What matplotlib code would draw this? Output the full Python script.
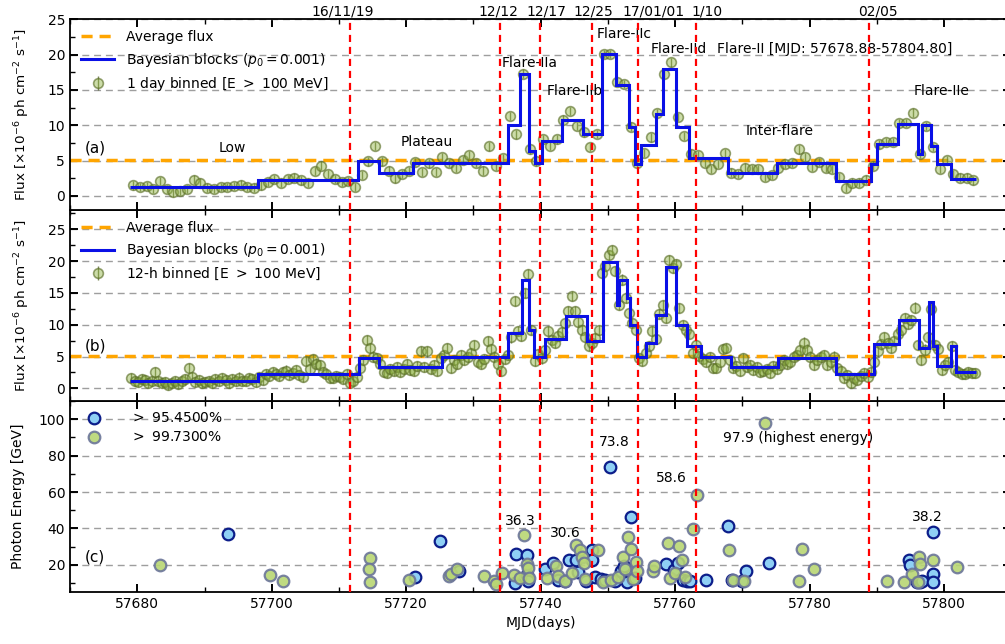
import numpy as np
import matplotlib
matplotlib.use("Agg")
import matplotlib.pyplot as plt
from matplotlib.ticker import MultipleLocator
from matplotlib.lines import Line2D

# ---------------------------------------------------------------------------
# Light-curve data, Flare-II (MJD 57678.88 - 57804.80)
# ---------------------------------------------------------------------------
T_START = 57678.88
AVG_FLUX = 5.1

# 1-day binned flux (E > 100 MeV), units 1e-6 ph cm^-2 s^-1
flux_1day = [
    1.5, 1.3, 1.4, 1.0, 2.1, 1.0, 0.5, 0.7, 1.0, 2.3,
    1.9, 1.2, 1.0, 1.3, 1.3, 1.4, 1.6, 1.3, 1.2, 1.5,
    2.0, 2.4, 1.9, 2.4, 2.6, 2.2, 1.9, 3.5, 4.3, 3.1,
    2.4, 2.0, 2.1, 1.3, 3.0, 4.9, 7.1, 4.9, 3.6, 2.5,
    3.1, 3.5, 4.8, 3.4, 4.6, 3.4, 5.5, 4.7, 4.0, 5.1,
    5.8, 4.7, 3.6, 7.0, 4.3, 5.4, 11.3, 8.7, 17.3, 6.6,
    4.9, 8.0, 7.1, 8.0, 10.8, 12.0, 9.9, 9.0, 6.9, 8.8,
    20.1, 20.1, 16.1, 15.8, 9.8, 4.7, 6.1, 8.3, 11.7, 17.3,
    18.9, 11.2, 8.5, 6.0, 5.8, 4.7, 3.8, 4.5, 6.1, 3.3,
    3.1, 4.0, 3.8, 3.8, 2.7, 3.0, 4.0, 4.5, 4.7, 6.6,
    5.5, 4.1, 4.8, 4.0, 3.8, 2.7, 1.2, 1.9, 1.9, 2.3,
    4.3, 7.3, 7.6, 7.6, 10.3, 10.3, 11.8, 6.0, 9.9, 6.9,
    3.8, 5.1, 3.1, 2.6, 2.6, 2.2,
]
flux_1day_err = 0.6

bb_1day_edges = [
    57678.88, 57698.0, 57712.8, 57716.0, 57721.0, 57735.1, 57737.0, 57738.3,
    57739.1, 57740.2, 57743.2, 57746.3, 57749.1, 57751.2, 57753.1, 57754.1,
    57754.9, 57757.2, 57758.2, 57760.1, 57762.0, 57767.8, 57775.1, 57784.0,
    57789.2, 57790.0, 57793.1, 57796.1, 57796.8, 57798.1, 57799.0, 57801.1,
    57804.8,
]
bb_1day_values = [
    1.3, 2.2, 4.9, 3.3, 4.7, 10.1, 17.3, 6.4, 4.7, 7.8, 10.8, 8.8, 20.1,
    15.7, 9.8, 4.5, 7.2, 11.6, 18.0, 9.8, 5.4, 3.3, 4.6, 2.1, 4.5, 7.4,
    10.2, 6.0, 10.0, 7.0, 4.5, 2.4,
]

# 12-h binned flux (E > 100 MeV)
flux_12h = [
    1.6, 1.2, 1.0, 1.5, 1.3, 0.9, 1.1, 2.6, 1.2, 0.8,
    1.0, 0.6, 0.9, 1.2, 0.7, 1.1, 1.4, 3.2, 1.8, 1.0,
    1.3, 0.8, 1.0, 1.2, 0.9, 1.4, 1.1, 1.6, 1.3, 0.9,
    1.5, 1.2, 1.7, 1.1, 1.2, 1.6, 1.4, 1.0, 1.8, 1.3,
    2.3, 2.0, 2.6, 2.2, 2.0, 2.5, 2.8, 2.1, 2.4, 2.9,
    2.1, 1.8, 4.3, 3.0, 4.6, 3.9, 3.7, 2.5, 2.2, 1.7,
    1.6, 2.0, 1.8, 1.5, 2.3, 0.9, 1.2, 1.8, 3.2, 4.5,
    7.6, 6.4, 5.0, 4.7, 3.9, 2.6, 2.4, 3.0, 2.8, 3.4,
    2.6, 3.1, 3.8, 2.9, 2.7, 3.5, 5.8, 3.3, 5.8, 3.0,
    3.6, 2.8, 4.8, 5.3, 6.3, 3.2, 4.5, 3.9, 5.2, 4.4,
    4.9, 5.6, 6.8, 4.2, 3.8, 4.6, 7.4, 6.2, 5.0, 3.9,
    2.7, 4.6, 5.2, 8.0, 13.7, 9.0, 8.2, 15.0, 17.9, 9.2,
    4.3, 5.4, 4.7, 6.1, 9.0, 7.6, 7.1, 8.3, 8.9, 10.2,
    12.1, 14.5, 12.1, 10.5, 9.2, 8.0, 6.6, 7.1, 7.9, 9.2,
    18.1, 19.2, 21.0, 21.8, 18.4, 13.1, 17.1, 14.2, 11.8, 10.3,
    9.2, 4.7, 4.3, 5.5, 6.6, 9.0, 7.8, 11.7, 13.1, 11.0,
    20.2, 18.9, 19.5, 12.6, 10.0, 9.1, 8.5, 5.6, 6.8, 5.1,
    4.6, 4.2, 4.9, 3.2, 3.2, 4.1, 6.2, 6.3, 4.4, 3.2,
    3.5, 2.7, 4.8, 3.4, 3.7, 2.9, 3.3, 2.6, 2.7, 3.1,
    2.4, 3.5, 3.0, 3.7, 4.5, 3.9, 4.2, 5.0, 5.3, 6.0,
    7.2, 6.1, 5.0, 3.7, 4.4, 4.9, 5.2, 3.7, 4.1, 5.0,
    3.2, 2.7, 1.7, 2.1, 0.9, 1.6, 1.3, 2.0, 2.4, 1.8,
    2.6, 4.2, 5.8, 6.9, 8.0, 7.1, 6.4, 7.5, 8.6, 9.2,
    11.0, 10.1, 10.8, 12.7, 6.8, 4.5, 6.1, 8.0, 12.4, 6.8,
    6.2, 2.9, 3.6, 4.2, 6.6, 2.9, 2.6, 2.3, 2.2, 2.5,
    2.4, 2.4,
]
flux_12h_err = 0.8

bb_12h_edges = [
    57678.88, 57698.0, 57713.0, 57716.0, 57725.3, 57735.1, 57737.3, 57738.3,
    57739.0, 57740.7, 57743.7, 57746.9, 57749.3, 57751.4, 57751.6, 57752.9,
    57753.3, 57754.3, 57755.7, 57757.1, 57758.6, 57760.2, 57761.8, 57763.8,
    57768.3, 57775.3, 57783.9, 57789.6, 57793.3, 57796.3, 57797.7, 57798.3,
    57799.0, 57801.1, 57801.8, 57804.8,
]
bb_12h_values = [
    1.1, 2.2, 4.8, 3.4, 4.9, 8.7, 17.1, 9.1, 4.9, 7.8, 11.3, 7.5, 19.8,
    13.1, 17.1, 14.2, 9.9, 4.9, 7.2, 11.6, 19.0, 10.0, 6.7, 4.9, 3.3, 4.8,
    2.2, 6.9, 10.8, 6.4, 13.6, 6.6, 3.5, 6.6, 2.5,
]

# High-energy photons: arrival time (MJD) and energy (GeV)
photon_954_mjd = [
    57693.5, 57721.3, 57725.0, 57727.8, 57736.3, 57736.2, 57738.0, 57737.9,
    57738.1, 57740.6, 57741.8, 57742.6, 57743.6, 57744.2, 57745.2, 57745.6,
    57746.7, 57747.6, 57747.7, 57748.1, 57749.0, 57749.6, 57750.3, 57751.0,
    57751.9, 57752.4, 57752.8, 57753.5, 57754.0, 57758.7, 57759.9, 57760.5,
    57761.2, 57761.8, 57762.2, 57764.6, 57767.9, 57768.4, 57769.9, 57770.6,
    57774.0, 57794.8, 57795.0, 57796.0, 57796.4, 57796.7, 57798.3, 57798.4,
    57798.4,
]
photon_954_e = [
    36.9, 13.1, 33.2, 16.5, 25.9, 9.9, 25.2, 14.5,
    11.0, 17.4, 21.0, 11.5, 10.8, 22.8, 22.5, 15.8,
    11.0, 28.3, 22.5, 13.5, 12.0, 11.5, 73.8, 11.0,
    16.5, 19.5, 10.5, 46.4, 12.5, 20.5, 17.0, 20.8,
    11.5, 10.8, 11.3, 11.8, 41.4, 11.8, 11.0, 16.4,
    21.2, 22.7, 19.6, 10.4, 10.4, 11.0, 38.2, 14.7,
    10.4,
]
photon_997_mjd = [
    57683.4, 57699.8, 57701.7, 57714.6, 57714.5, 57714.6, 57720.4, 57726.3,
    57726.7, 57727.6, 57731.6, 57733.1, 57733.3, 57734.2, 57736.0, 57737.0,
    57737.5, 57738.0, 57738.1, 57738.3, 57741.0, 57742.3, 57742.6, 57743.6,
    57744.6, 57745.3, 57745.9, 57746.2, 57746.4, 57746.6, 57748.6, 57749.3,
    57750.5, 57751.5, 57752.2, 57752.6, 57753.0, 57753.4, 57753.7, 57754.2,
    57754.3, 57756.7, 57756.9, 57758.9, 57759.3, 57760.0, 57760.6, 57761.0,
    57761.4, 57762.6, 57763.2, 57768.0, 57768.6, 57770.2, 57773.4, 57778.4,
    57778.9, 57780.6, 57791.5, 57794.1, 57795.3, 57796.3, 57796.4, 57796.2,
    57798.4, 57801.9,
]
photon_997_e = [
    19.8, 14.5, 11.2, 23.5, 17.6, 10.3, 11.6, 13.7,
    15.0, 17.4, 13.7, 11.0, 9.5, 15.5, 14.6, 12.5,
    36.3, 20.5, 18.0, 12.5, 12.5, 19.2, 14.0, 11.2,
    15.5, 30.6, 28.0, 24.5, 20.8, 12.0, 28.3, 10.3,
    11.5, 13.5, 24.0, 17.5, 35.0, 28.5, 12.0, 21.5,
    16.5, 16.5, 19.1, 31.7, 12.5, 15.5, 30.4, 22.5,
    13.0, 39.6, 58.6, 28.0, 11.8, 11.0, 97.9, 11.0,
    28.8, 17.4, 11.0, 10.4, 15.0, 24.2, 20.6, 10.4,
    22.7, 18.5,
]

# Period boundaries and their calendar dates
period_lines = [57711.6, 57734.0, 57739.9, 57747.6, 57754.5, 57763.1, 57788.9]
date_labels = ["16/11/19", "12/12", "12/17", "12/25", "17/01/01", "1/10", "02/05"]
date_label_pos = [57710.6, 57733.7, 57740.8, 57747.9, 57756.8, 57764.8, 57790.2]

# Phase annotations on panel (a): (text, x, y)
phase_text = [
    ("Low", 57694.2, 6.85),
    ("Plateau", 57723.1, 7.7),
    ("Flare-IIa", 57738.4, 18.8),
    ("Flare-IIb", 57745.0, 14.8),
    ("Flare-IIc", 57752.4, 22.9),
    ("Flare-IId", 57760.5, 20.8),
    ("Inter-flare", 57775.5, 9.2),
    ("Flare-IIe", 57799.6, 14.8),
]

# Energy labels on panel (c): (text, x, y)
energy_text = [
    ("36.3", 57737.0, 43.8),
    ("30.6", 57743.6, 37.2),
    ("73.8", 57751.0, 87.6),
    ("58.6", 57759.5, 67.6),
    ("38.2", 57797.5, 46.4),
]

# ---------------------------------------------------------------------------
plt.rcParams["font.family"] = "DejaVu Sans"
plt.rcParams["font.size"] = 10
plt.rcParams["mathtext.fontset"] = "dejavusans"

fig = plt.figure(figsize=(10.05, 6.44), dpi=100)
left, width, h, bottom0 = 0.0697, 0.9365, 0.2965, 0.0807
ax_c = fig.add_axes([left, bottom0, width, h])
ax_b = fig.add_axes([left, bottom0 + h, width, h], sharex=ax_c)
ax_a = fig.add_axes([left, bottom0 + 2 * h, width, h], sharex=ax_c)

XLIM = (57670, 57810)
GRID_KW = dict(color="0.62", ls=(0, (5, 3.5)), lw=1.0)
RED_KW = dict(color="red", lw=1.6, dashes=(3.2, 2.2), zorder=6)

pt_face = (0.56, 0.70, 0.26, 0.45)
pt_edge = (0.36, 0.44, 0.16, 0.65)
pt_err = (0.30, 0.37, 0.12, 0.75)

t_1day = T_START + 0.5 + np.arange(len(flux_1day))
t_12h = T_START + 0.25 + 0.5 * np.arange(len(flux_12h))

flux_label = r"Flux [$\times10^{-6}$ ph cm$^{-2}$ s$^{-1}$]"


def style_axis(ax):
    ax.tick_params(which="both", direction="in", top=True, right=True)
    ax.tick_params(which="major", length=6, width=1.4)
    ax.tick_params(which="minor", length=3.5, width=1.0)
    for sp in ax.spines.values():
        sp.set_linewidth(1.3)
    ax.xaxis.set_major_locator(MultipleLocator(20))
    ax.xaxis.set_minor_locator(MultipleLocator(10))
    ax.set_axisbelow(True)


def light_curve(ax, t, f, ferr, edges, vals, label_pts, ylim, tag, tag_y):
    style_axis(ax)
    ax.set_ylim(*ylim)
    ax.yaxis.set_major_locator(MultipleLocator(5))
    ax.yaxis.set_minor_locator(MultipleLocator(2.5))
    ax.yaxis.grid(True, **GRID_KW)
    avg = ax.axhline(AVG_FLUX, color="orange", lw=2.5, dashes=(3.2, 2.0),
                     zorder=2)
    pts = ax.errorbar(t, f, yerr=ferr, fmt="o", ms=7, mfc=pt_face,
                      mec=pt_edge, mew=1.2, ecolor=pt_err, elinewidth=1.0,
                      capsize=0, zorder=3)
    ax.stairs(vals, edges, baseline=None, color="#0a10e6", lw=2.2, zorder=4)
    for x in period_lines:
        ax.axvline(x, **RED_KW)
    blk = Line2D([], [], color="#0a10e6", lw=2.2)
    ax.legend([avg, blk, pts],
              ["Average flux", r"Bayesian blocks ($p_0 = 0.001$)", label_pts],
              loc="upper left", frameon=False, fontsize=10,
              handlelength=2.4, borderaxespad=0.4, labelspacing=0.45)
    ax.text(57673.8, tag_y, tag, ha="center", va="center", fontsize=11)
    ax.set_ylabel(flux_label, fontsize=9.7)
    ax.tick_params(labelbottom=False)


light_curve(ax_a, t_1day, flux_1day, flux_1day_err, bb_1day_edges,
            bb_1day_values, r"1 day binned [E $>$ 100 MeV]", (-2, 25),
            "(a)", 6.85)
light_curve(ax_b, t_12h, flux_12h, flux_12h_err, bb_12h_edges,
            bb_12h_values, r"12-h binned [E $>$ 100 MeV]", (-2, 28),
            "(b)", 6.6)

for txt, x, y in phase_text:
    ax_a.text(x, y, txt, ha="center", va="center", fontsize=10)
ax_a.text(57766.2, 20.8, "Flare-II [MJD: 57678.88-57804.80]", ha="left",
          va="center", fontsize=10)

for txt, x in zip(date_labels, date_label_pos):
    ax_a.text(x, 1.004, txt, transform=ax_a.get_xaxis_transform(),
              ha="center", va="bottom", fontsize=10)

# Panel (c): photon energies
style_axis(ax_c)
ax_c.set_ylim(5, 110)
ax_c.yaxis.set_major_locator(MultipleLocator(20))
ax_c.yaxis.set_minor_locator(MultipleLocator(10))
ax_c.yaxis.grid(True, **GRID_KW)
sc_b = ax_c.scatter(photon_954_mjd, photon_954_e, s=70, c="#8fd0f5",
                    edgecolors="#0c1d8a", linewidths=1.6, zorder=3)
sc_g = ax_c.scatter(photon_997_mjd, photon_997_e, s=70,
                    c=[(0.72, 0.84, 0.45, 0.9)],
                    edgecolors=[(0.42, 0.46, 0.60, 0.9)], linewidths=1.6,
                    zorder=4)
for x in period_lines:
    ax_c.axvline(x, **RED_KW)
for txt, x, y in energy_text:
    ax_c.text(x, y, txt, ha="center", va="center", fontsize=10)
ax_c.text(57767.1, 89.6, "97.9 (highest energy)", ha="left", va="center",
          fontsize=10)
ax_c.text(57673.7, 24, "(c)", ha="center", va="center", fontsize=11)
ax_c.legend([sc_b, sc_g], [r"$>$ 95.4500%", r"$>$ 99.7300%"],
            loc="upper left", frameon=False, fontsize=10, handletextpad=1.6,
            borderaxespad=0.3, labelspacing=0.35)
ax_c.set_ylabel("Photon Energy [GeV]")
ax_c.set_xlabel("MJD(days)")
ax_c.set_xlim(*XLIM)

ax_a.yaxis.set_label_coords(-0.040, 0.5)
ax_b.yaxis.set_label_coords(-0.040, 0.5)
ax_c.yaxis.set_label_coords(-0.048, 0.5)

fig.savefig("out.png", dpi=100)
